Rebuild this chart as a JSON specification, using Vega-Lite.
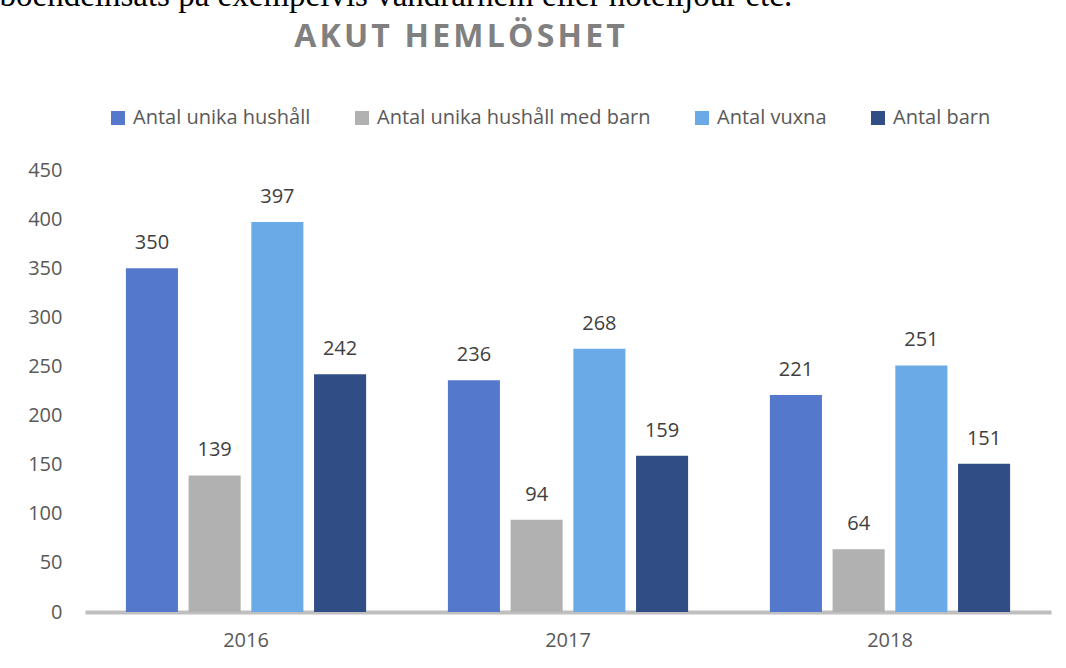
{
  "$schema": "https://vega.github.io/schema/vega-lite/v6.json",
  "width": 966,
  "height": 442,
  "autosize": {"type": "none"},
  "padding": {"left": 85, "top": 170, "right": 15, "bottom": 56},
  "background": "white",
  "config": {"view": {"stroke": null}, "font": "Open Sans"},
  "data": {
    "values": [
      {"year": "2016", "serie": "Antal unika hushåll", "value": 350},
      {"year": "2016", "serie": "Antal unika hushåll med barn", "value": 139},
      {"year": "2016", "serie": "Antal vuxna", "value": 397},
      {"year": "2016", "serie": "Antal barn", "value": 242},
      {"year": "2017", "serie": "Antal unika hushåll", "value": 236},
      {"year": "2017", "serie": "Antal unika hushåll med barn", "value": 94},
      {"year": "2017", "serie": "Antal vuxna", "value": 268},
      {"year": "2017", "serie": "Antal barn", "value": 159},
      {"year": "2018", "serie": "Antal unika hushåll", "value": 221},
      {"year": "2018", "serie": "Antal unika hushåll med barn", "value": 64},
      {"year": "2018", "serie": "Antal vuxna", "value": 251},
      {"year": "2018", "serie": "Antal barn", "value": 151}
    ]
  },
  "encoding": {
    "x": {
      "field": "year",
      "type": "nominal",
      "scale": {"paddingInner": 0.254, "paddingOuter": 0.127},
      "axis": {
        "title": "A\u200aK\u200aU\u200aT\u200a \u200aH\u200aE\u200aM\u200aL\u200aÖ\u200aS\u200aH\u200aE\u200aT",
        "titleX": 374,
        "titleY": -566,
        "titleAlign": "center",
        "titleBaseline": "alphabetic",
        "titleFont": "Open Sans",
        "titleFontSize": 32,
        "titleFontWeight": "bold",
        "titleColor": "#808080",
        "labelAngle": 0,
        "labelFontSize": 20,
        "labelColor": "#595959",
        "labelPadding": 18,
        "ticks": false,
        "domainColor": "#bfbfbf",
        "domainWidth": 4,
        "grid": false
      }
    },
    "xOffset": {
      "field": "serie",
      "type": "nominal",
      "sort": ["Antal unika hushåll", "Antal unika hushåll med barn", "Antal vuxna", "Antal barn"],
      "scale": {"paddingInner": 0.17, "paddingOuter": 0}
    },
    "y": {
      "field": "value",
      "type": "quantitative",
      "scale": {"domain": [0, 450]},
      "axis": {
        "values": [0, 50, 100, 150, 200, 250, 300, 350, 400, 450],
        "title": "boendeinsats på exempelvis vandrarhem eller hotelljour etc.",
        "titleAngle": 0,
        "titleX": -86,
        "titleY": -165,
        "titleAlign": "left",
        "titleBaseline": "alphabetic",
        "titleFont": "Liberation Serif",
        "titleFontSize": 33,
        "titleFontWeight": "normal",
        "titleColor": "#000000",
        "domain": false,
        "ticks": false,
        "grid": false,
        "labelFontSize": 20,
        "labelColor": "#595959",
        "labelPadding": 23
      }
    }
  },
  "layer": [
    {
      "mark": {"type": "bar"},
      "encoding": {
        "color": {
          "field": "serie",
          "type": "nominal",
          "scale": {
            "domain": ["Antal unika hushåll", "Antal unika hushåll med barn", "Antal vuxna", "Antal barn"],
            "range": ["#5479cc", "#b1b1b1", "#6aaae6", "#304d85"]
          },
          "legend": {
            "orient": "none",
            "legendX": 23,
            "legendY": -62,
            "direction": "horizontal",
            "title": null,
            "symbolType": "square",
            "symbolSize": 196,
            "symbolStrokeWidth": 0,
            "symbolOpacity": 1,
            "labelFontSize": 20,
            "labelColor": "#595959",
            "labelOffset": 5,
            "columnPadding": 41,
            "labelLimit": 500
          }
        }
      }
    },
    {
      "mark": {"type": "text", "dy": -19, "baseline": "alphabetic", "fontSize": 20, "color": "#404040"},
      "encoding": {"text": {"field": "value", "type": "quantitative"}}
    }
  ]
}
